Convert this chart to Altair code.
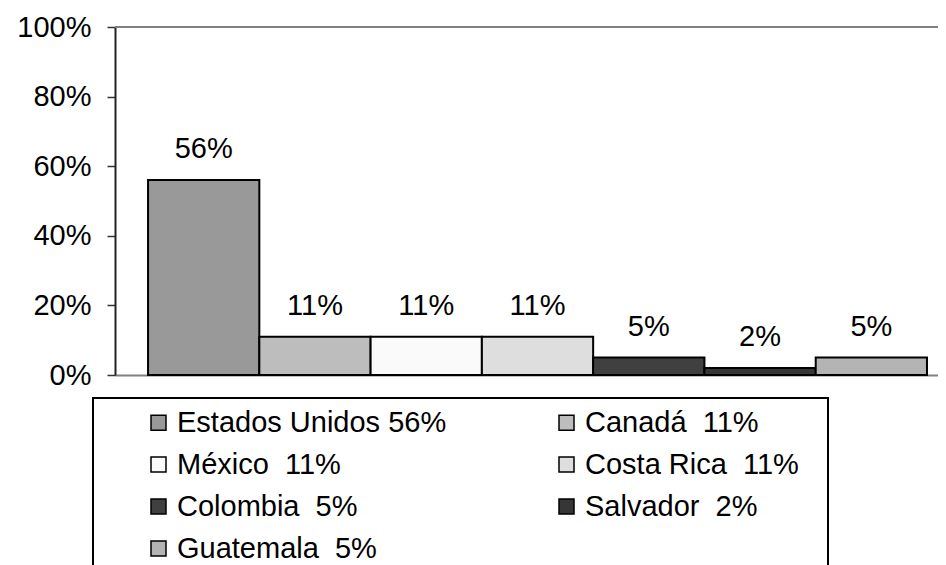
import altair as alt
import pandas as pd

paises = ["Estados Unidos", "Canadá", "México", "Costa Rica", "Colombia", "Salvador", "Guatemala"]
valores = [0.56, 0.11, 0.11, 0.11, 0.05, 0.02, 0.05]
etiquetas = ["56%", "11%", "11%", "11%", "5%", "2%", "5%"]
leyendas = ["Estados Unidos 56%", "Canadá\u00a0 11%", "México\u00a0 11%", "Costa Rica\u00a0 11%",
            "Colombia\u00a0 5%", "Salvador\u00a0 2%", "Guatemala\u00a0 5%"]
colores = ["#999999", "#bdbdbd", "#fafafa", "#dedede", "#404040", "#363636", "#b4b4b4"]
y_ticks = [0, 0.2, 0.4, 0.6, 0.8, 1.0]

df = pd.DataFrame({"pais": paises, "valor": valores, "etiqueta": etiquetas, "leyenda": leyendas})

FONT = "Liberation Sans"
FS = 29

x_enc = alt.X("pais:N", sort=paises,
              scale=alt.Scale(domain=paises, paddingInner=0, paddingOuter=0.198, align=0.75),
              axis=alt.Axis(title=None, labels=False, ticks=False, domainColor="#808080", domainWidth=2))
y_enc = alt.Y("valor:Q", scale=alt.Scale(domain=[0, 1], nice=False),
              axis=alt.Axis(title=None, values=y_ticks, format=".0%", grid=False,
                            labelFont=FONT, labelFontSize=FS, labelColor="black",
                            labelPadding=16, tickSize=8, tickColor="#333333", tickWidth=1.5,
                            domainColor="#222222", domainWidth=2))

bars = alt.Chart(df).mark_bar(stroke="black", strokeWidth=2).encode(
    x=x_enc,
    y=y_enc,
    fill=alt.Fill("leyenda:N", scale=alt.Scale(domain=leyendas, range=colores),
                  legend=alt.Legend(title=None, orient="none", legendX=29, legendY=381,
                                    direction="horizontal", columns=2, columnPadding=105,
                                    rowPadding=12,
                                    symbolType="square", symbolSize=225,
                                    symbolStrokeColor="black", symbolStrokeWidth=1.5,
                                    labelFont=FONT, labelFontSize=FS, labelColor="black",
                                    labelOffset=4, labelLimit=400, padding=0)),
)

labels = alt.Chart(df).mark_text(dy=-31, baseline="middle", font=FONT, fontSize=FS, color="black").encode(
    x=alt.X("pais:N", sort=paises),
    y="valor:Q",
    text="etiqueta:N",
)

top_line = alt.Chart(df).mark_rule(color="#808080", strokeWidth=2).encode(
    y=alt.datum(1),
)

frame = alt.Chart(df).mark_rect(fillOpacity=0, stroke="black", strokeWidth=1.5).encode(
    x=alt.value(-22), x2=alt.value(713), y=alt.value(371), y2=alt.value(600),
)

chart = alt.layer(top_line, bars, labels, frame).properties(
    width=823, height=348,
    autosize=alt.AutoSizeParams(type="none"),
    padding={"left": 107, "top": 19, "right": 0, "bottom": 192},
).configure_view(stroke=None).configure(background="white")

chart.save("out.html", embed_options={"renderer": "svg", "actions": False})
